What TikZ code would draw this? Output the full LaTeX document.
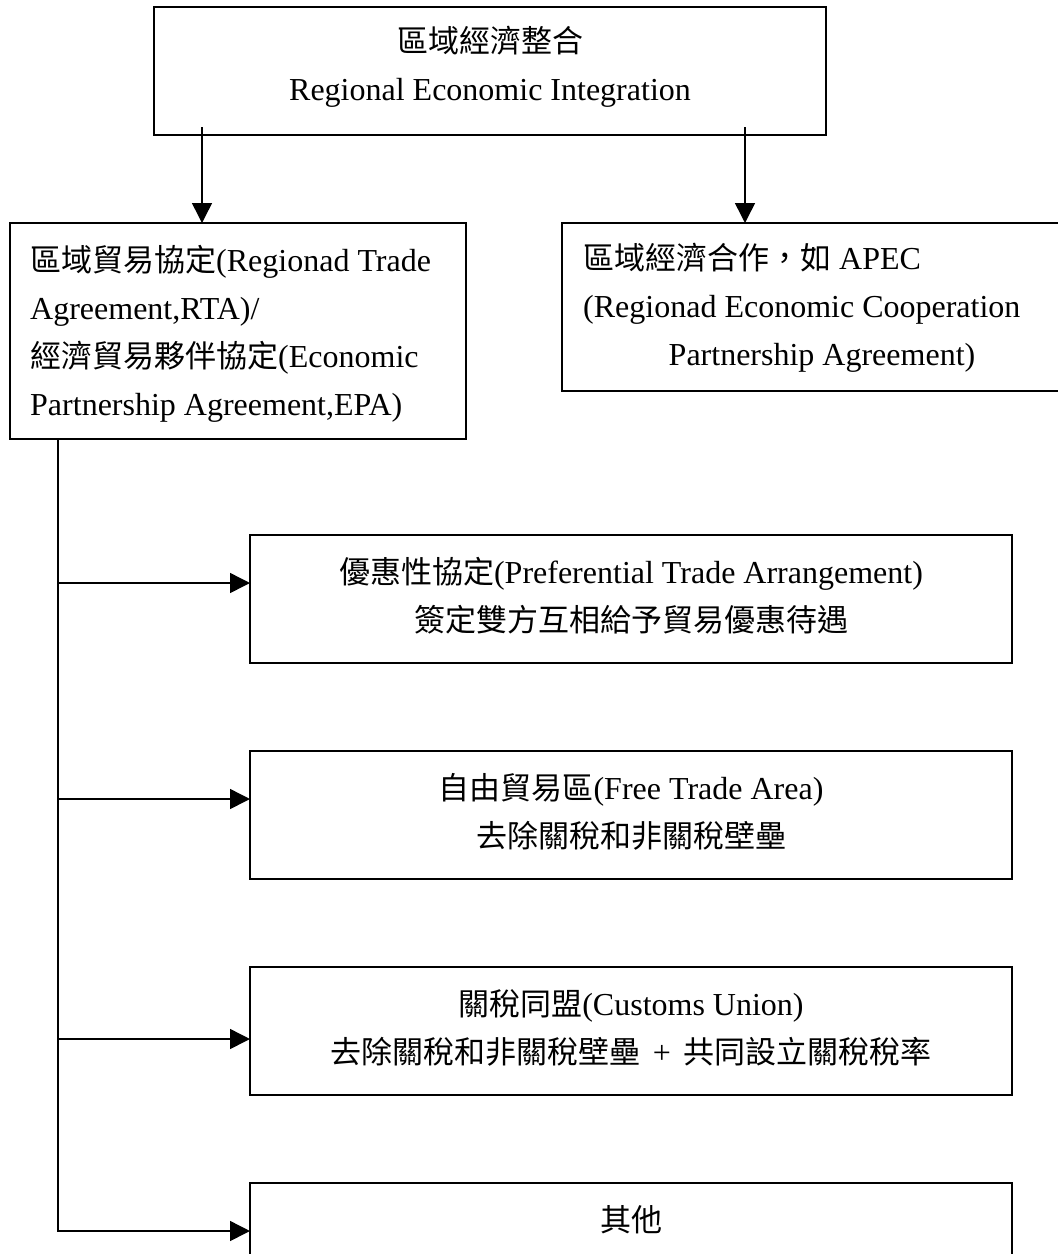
\documentclass[tikz,border=0pt]{standalone}
\usepackage{fontspec}
\setmainfont{Liberation Serif}
\newfontfamily\cjkf{Noto Sans CJK TC}
\usetikzlibrary{arrows.meta}
\newcommand\zh[1]{{\cjkf\fontsize{31}{48}\selectfont #1}}
\begin{document}
\begin{tikzpicture}[x=1pt,y=-1pt,
  boxs/.style={draw=black, line width=1.5pt, rectangle, inner sep=0pt, outer sep=0pt},
  conn/.style={line width=1.5pt},
  arr/.style={conn, -{Triangle[length=20pt,width=20pt]}},
  txt/.style={inner sep=0pt, font=\fontsize{32}{48}\selectfont, anchor=base},
  txtl/.style={txt, anchor=base west}]
\useasboundingbox (0,0) rectangle (1058,1254);
\clip (0,0) rectangle (1058,1254);
% boxes
\node[boxs, minimum width=672pt, minimum height=128pt] (top) at (490,71) {};
\node[boxs, minimum width=456pt, minimum height=216pt] (rta) at (238,331) {};
\node[boxs, minimum width=520pt, minimum height=168pt] (apec) at (822,307) {};
\node[boxs, minimum width=762pt, minimum height=128pt] (pta) at (631,599) {};
\node[boxs, minimum width=762pt, minimum height=128pt] (fta) at (631,815) {};
\node[boxs, minimum width=762pt, minimum height=128pt] (cu) at (631,1031) {};
\node[boxs, minimum width=762pt, minimum height=128pt] (oth) at (631,1247) {};
% texts
\node[txt] (top1) at (490,52) {\zh{區域經濟整合}};
\node[txt] (top2) at (490,100) {Regional Economic Integration};
\node[txtl] (rta1) at (30,271) {\zh{區域貿易協定}(Regionad Trade};
\node[txtl] (rta2) at (30,319) {Agreement,RTA)/};
\node[txtl] (rta3) at (30,367) {\zh{經濟貿易夥伴協定}(Economic};
\node[txtl] (rta4) at (30,415) {Partnership Agreement,EPA)};
\node[txtl] (apec1) at (583,269) {\zh{區域經濟合作，如} APEC};
\node[txtl] (apec2) at (583,317) {(Regionad Economic Cooperation};
\node[txt] (apec3) at (822,365) {Partnership Agreement)};
\node[txt] (pta1) at (631,583) {\zh{優惠性協定}(Preferential Trade Arrangement)};
\node[txt] (pta2) at (631,631) {\zh{簽定雙方互相給予貿易優惠待遇}};
\node[txt] (fta1) at (631,799) {\zh{自由貿易區}(Free Trade Area)};
\node[txt] (fta2) at (631,847) {\zh{去除關稅和非關稅壁壘}};
\node[txt] (cu1) at (631,1015) {\zh{關稅同盟}(Customs Union)};
\node[txt] (cu2) at (631,1063) {\zh{去除關稅和非關稅壁壘}\hspace{12pt}+\hspace{12pt}\zh{共同設立關稅稅率}};
\node[txt] (oth1) at (631,1231) {\zh{其他}};
% connectors
\coordinate (s1) at (202,127);
\coordinate (s2) at (745,127);
\draw[arr] (s1) -- (s1 |- rta.north);
\draw[arr] (s2) -- (s2 |- apec.north);
\coordinate (tk) at (58,0);
\coordinate (e1) at ([yshift=-48pt]pta.north west);
\coordinate (e2) at ([yshift=-48pt]fta.north west);
\coordinate (e3) at ([yshift=-72pt]cu.north west);
\coordinate (e4) at ([yshift=-48pt]oth.north west);
\draw[arr] (rta.south -| tk) |- (e4);
\draw[arr] (tk |- e1) -- (e1);
\draw[arr] (tk |- e2) -- (e2);
\draw[arr] (tk |- e3) -- (e3);
\end{tikzpicture}
\end{document}
